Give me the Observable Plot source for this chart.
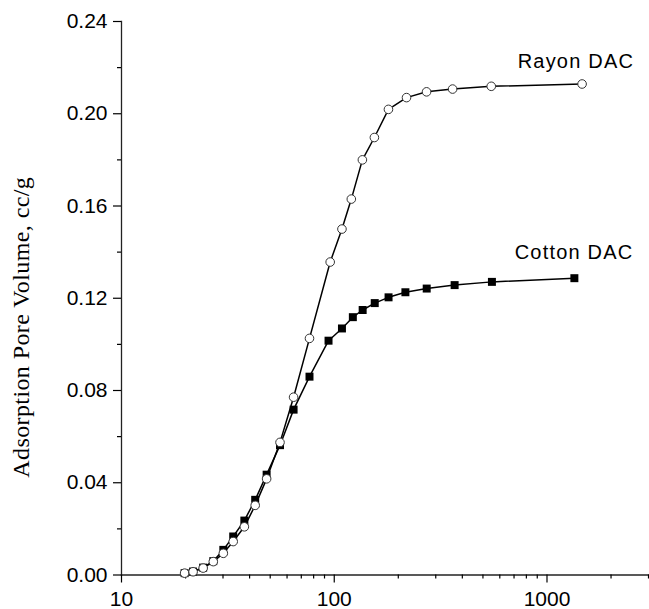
<!DOCTYPE html>
<html><head><meta charset="utf-8">
<script src="https://cdn.jsdelivr.net/npm/d3@7"></script>
<script src="https://cdn.jsdelivr.net/npm/@observablehq/plot@0.6"></script>
<style>body{margin:0;background:#fff}</style>
</head><body><div id="chart"></div>
<script>
const rayonX = [19.8, 21.7, 24.2, 27.0, 30.1, 33.5, 37.8, 42.5, 48.1, 55.6, 64.4, 76.5, 95.7, 108.7, 120.3, 135.6, 154.4, 179.8, 218.6, 271.6, 360, 547, 1462];
const rayonY = [0.0008, 0.0014, 0.003, 0.0058, 0.0094, 0.0145, 0.0209, 0.0302, 0.0417, 0.0575, 0.0771, 0.1026, 0.1357, 0.150, 0.163, 0.180, 0.1897, 0.2019, 0.207, 0.2095, 0.2107, 0.2119, 0.2129];
const cottonX = [19.8, 21.7, 24.2, 27.0, 30.1, 33.5, 37.8, 42.5, 48.1, 55.6, 64.4, 76.5, 94.0, 108.7, 122.3, 136, 155, 180, 216, 272, 368, 551, 1345];
const cottonY = [0.0008, 0.0015, 0.0032, 0.006, 0.0109, 0.0167, 0.0236, 0.0326, 0.0435, 0.0563, 0.0717, 0.086, 0.1016, 0.1069, 0.1118, 0.1149, 0.1179, 0.1204, 0.1226, 0.1242, 0.1257, 0.1271, 0.1287];
const xTicks = [10, 100, 1000];
const yTicks = [0, 0.04, 0.08, 0.12, 0.16, 0.20, 0.24];
const yMinorTicks = [0.02, 0.06, 0.10, 0.14, 0.18, 0.22];
const seriesNames = ["Rayon DAC", "Cotton DAC"];
const yTitle = "Adsorption Pore Volume, cc/g";
const xDomain = [10, 3000];
const yDomain = [0, 0.24];

const rayon = rayonX.map((x, i) => ({x, y: rayonY[i]}));
const cotton = cottonX.map((x, i) => ({x, y: cottonY[i]}));
const xMinor = d3.scaleLog().domain(xDomain).ticks().filter(t => !xTicks.includes(t));

const chart = Plot.plot({
  width: 649, height: 609,
  marginLeft: 121, marginRight: 1, marginTop: 21, marginBottom: 34.5,
  style: {fontFamily: "'Liberation Sans', Arial, sans-serif", fontSize: "21px", color: "#000", background: "#fff"},
  x: {type: "log", domain: xDomain},
  y: {domain: yDomain},
  marks: [
    Plot.frame({anchor: "left", stroke: "#222", strokeWidth: 1.3}),
    Plot.frame({anchor: "bottom", stroke: "#222", strokeWidth: 1.3}),
    Plot.axisX({ticks: xTicks, tickSize: 8, tickPadding: 8, tickFormat: d3.format("d"), label: null, strokeWidth: 1.2}),
    Plot.axisX({ticks: xMinor, tickSize: 4, tickFormat: () => "", label: null, strokeWidth: 1.2}),
    Plot.axisY({ticks: yTicks, tickSize: 8, tickPadding: 6, tickFormat: d3.format(".2f"), label: null, strokeWidth: 1.2}),
    Plot.axisY({ticks: yMinorTicks, tickSize: 4, tickFormat: () => "", label: null, strokeWidth: 1.2}),
    Plot.line(rayon, {x: "x", y: "y", stroke: "#000", strokeWidth: 1.5}),
    Plot.line(cotton, {x: "x", y: "y", stroke: "#000", strokeWidth: 1.5}),
    Plot.dot(cotton, {x: "x", y: "y", symbol: "square", r: 4.5, fill: "#000"}),
    Plot.dot(rayon, {x: "x", y: "y", r: 4.3, fill: "#fff", stroke: "#333", strokeWidth: 1}),
    Plot.text([rayon[rayon.length - 1]], {x: "x", y: "y", text: () => seriesNames[0], textAnchor: "end", dx: 52, dy: -22, fontSize: 20, fill: "#000"}),
    Plot.text([cotton[cotton.length - 1]], {x: "x", y: "y", text: () => seriesNames[1], textAnchor: "end", dx: 59, dy: -26, fontSize: 20, fill: "#000"}),
    Plot.text([yTitle], {frameAnchor: "left", text: d => d, rotate: -90, textAnchor: "middle", dx: -100, dy: 29, fontSize: 24, fontFamily: "'Liberation Serif', 'Times New Roman', serif", fill: "#000"})
  ]
});
d3.select(chart).selectAll("text").filter(function() { return /DAC/.test(this.textContent); }).style("letter-spacing", "1.2px");
d3.select(chart).selectAll("text").filter(function() { return /Adsorption/.test(this.textContent); }).style("letter-spacing", "0.4px");
document.getElementById("chart").appendChild(chart);
</script>
</body></html>
